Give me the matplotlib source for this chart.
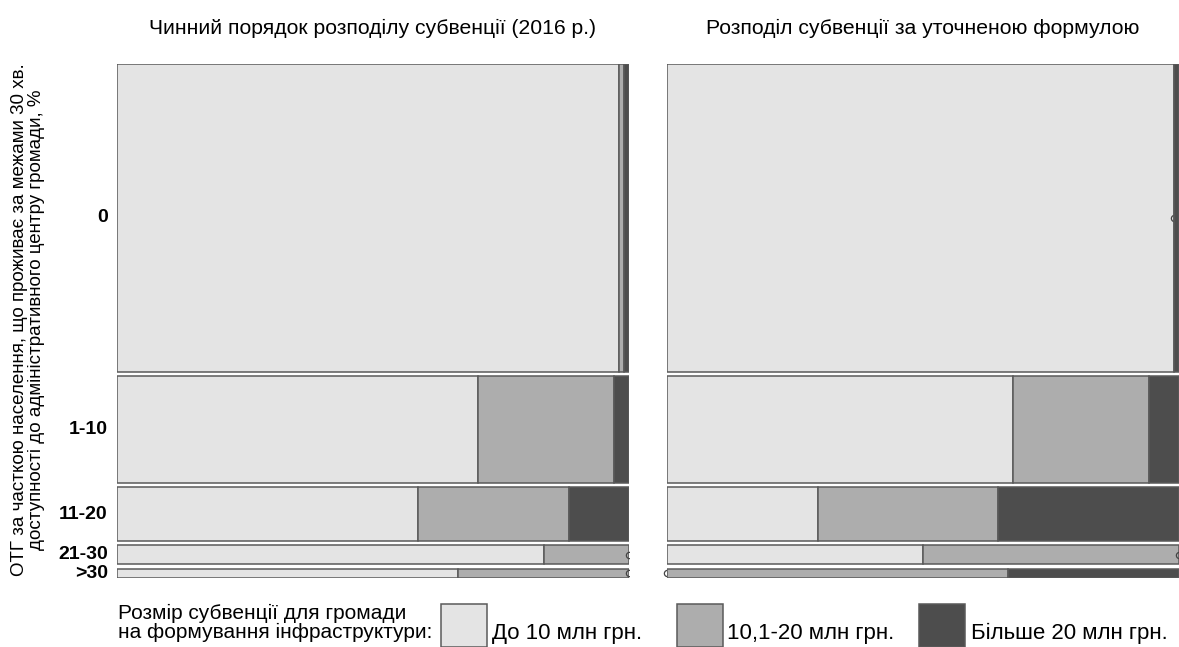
import matplotlib.pyplot as plt
from matplotlib.patches import Rectangle

plt.rcParams['font.family'] = ['Liberation Sans', 'DejaVu Sans']

# Рядки мозаїки (частка населення поза 30 хв. доступності, %)
rows = ["0", "1-10", "11-20", "21-30", ">30"]
# Кількість ОТГ за розміром субвенції: до 10 / 10,1-20 / більше 20 млн грн.
current_light = [96, 24, 10, 5, 2]
current_mid = [1, 9, 5, 1, 1]
current_dark = [1, 1, 2, 0, 0]

new_light = [97, 23, 5, 3, 0]
new_mid = [0, 9, 6, 3, 2]
new_dark = [1, 2, 6, 0, 1]

titles = ["Чинний порядок розподілу субвенції (2016 р.)",
          "Розподіл субвенції за уточненою формулою"]
legend_labels = ["До 10 млн грн.", "10,1-20 млн грн.", "Більше 20 млн грн."]
COLORS = ["#e4e4e4", "#adadad", "#4d4d4d"]
EDGE = "#5a5a5a"

W, H = 1179, 647
fig = plt.figure(figsize=(W / 100, H / 100), dpi=100)


def px_axes(x0, y0, x1, y1):
    return fig.add_axes([x0 / W, 1 - y1 / H, (x1 - x0) / W, (y1 - y0) / H])


def mosaic(ax, light, mid, dark):
    totals = [a + b + c for a, b, c in zip(light, mid, dark)]
    n = sum(totals)
    gap = 4.5 / 514
    avail = 1 - gap * (len(rows) - 1)
    centers = []
    y = 0
    for i, t in enumerate(totals):
        h = t / n * avail
        x = 0
        z = 2
        for val, col in zip([light[i], mid[i], dark[i]], COLORS):
            w = val / t
            if val == 0:
                # порожня клітинка - маленьке коло на межі
                ax.plot(x, y + h / 2, "o", ms=4.5, mfc="none", mec="#444444",
                        mew=0.9, zorder=z, clip_on=(x > 0.999))
            else:
                ax.add_patch(Rectangle((x, y), w, h, facecolor=col,
                                       edgecolor=EDGE, linewidth=1.1, zorder=z))
            z += 1
            x += w
        centers.append(y + h / 2)
        y += h + gap
    ax.set_xlim(0, 1)
    ax.set_ylim(1, 0)
    ax.axis("off")
    return centers


ax1 = px_axes(117, 64, 629, 578)
ax2 = px_axes(667, 64, 1179, 578)
centers = mosaic(ax1, current_light, current_mid, current_dark)
mosaic(ax2, new_light, new_mid, new_dark)

for ax, t in zip([ax1, ax2], titles):
    ax.text(0.5, 1 + 36 / 514, t, transform=ax.transAxes, ha="center",
            va="center", fontsize=15.2)

# підписи рядків
for lab, yc in zip(rows, centers):
    ax1.text(-0.018, yc, lab, ha="right", va="center", fontsize=14,
             fontweight="bold", transform=ax1.get_yaxis_transform())

fig.text(28 / W, 1 - 320 / H,
         "ОТГ за часткою населення, що проживає за межами 30 хв.\n"
         "доступності до адміністративного центру громади, %",
         rotation=90, ha="center", va="center", fontsize=13.5, linespacing=0.95)

# легенда
fig.text(118 / W, 1 - 623 / H,
         "Розмір субвенції для громади\nна формування інфраструктури:",
         ha="left", va="center", fontsize=15, linespacing=0.95)
box_x = [441, 677, 919]
text_x = [492, 727, 971]
for bx, tx, col, lab in zip(box_x, text_x, COLORS, legend_labels):
    fig.patches.append(Rectangle((bx / W, 0), 46 / W, 43 / H, facecolor=col,
                                 edgecolor=EDGE, linewidth=1.1,
                                 transform=fig.transFigure, figure=fig))
    fig.text(tx / W, 1 - 633 / H, lab, ha="left", va="center", fontsize=16)

fig.savefig("out.png", dpi=100)
